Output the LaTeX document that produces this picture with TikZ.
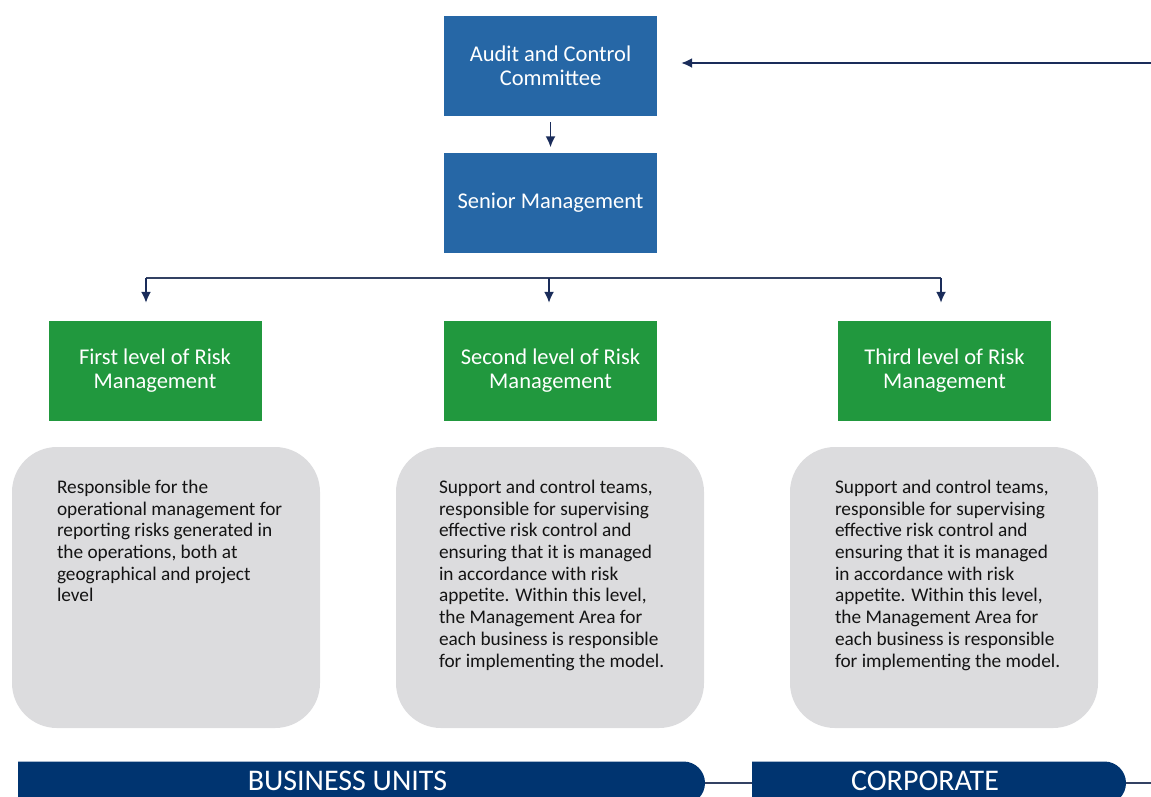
\documentclass[tikz,border=0pt]{standalone}
\usepackage{fontspec}
\setmainfont{Carlito}
\usetikzlibrary{arrows.meta, shapes.misc}
\definecolor{myblue}{RGB}{38,103,166}
\definecolor{mygreen}{RGB}{33,152,62}
\definecolor{mygray}{RGB}{220,220,222}
\definecolor{mynavy}{RGB}{0,52,112}
\definecolor{myarrow}{RGB}{26,44,90}

\tikzset{
  topbox/.style={fill=myblue, text=white, minimum width=213pt, minimum height=100pt,
    align=center, inner sep=0pt, font=\fontsize{22.5}{23.5}\selectfont},
  levelbox/.style={topbox, fill=mygreen},
  descbox/.style={fill=mygray, rounded corners=45pt, minimum width=308pt, minimum height=281pt},
  desctext/.style={anchor=north west, align=left, inner sep=0pt, text=black!92,
    font=\fontsize{19.3}{21.7}\selectfont},
  bar/.style={rounded rectangle, rounded rectangle left arc=none, fill=mynavy,
    minimum height=43pt, inner sep=0pt},
  bartext/.style={text=white, inner sep=0pt, font=\fontsize{30}{30}\selectfont},
  link/.style={-{Latex[length=11pt,width=10pt]}, line width=1.8pt, color=myarrow},
  joint/.style={line width=1.8pt, color=myarrow!75!gray}
}

\begin{document}
\begin{tikzpicture}[x=1pt,y=-1pt]
\useasboundingbox (0,0) rectangle (1151,796);
\clip (0,0) rectangle (1151,796);

% top of the chart
\node[topbox] (audit) at (550.5,66) {Audit and Control\\Committee};
\node[topbox] (senior) at (550.5,202.5) {Senior Management};

\coordinate (in) at (1151,63);
\draw[link, shorten >=24pt] (in) -- (in -| audit.east);
\draw[link, shorten <=6pt, shorten >=5pt] (audit) -- (senior);

% levels
\node[levelbox] (first) at (155,370.5) {First level of Risk\\Management};
\node[levelbox] (second) at (550.5,370.5) {Second level of Risk\\Management};
\node[levelbox] (third) at (944.5,370.5) {Third level of Risk\\Management};

\coordinate (bl) at (146,278);
\coordinate (bm) at (549,278);
\coordinate (br) at (941,278);
\draw[joint] (bl) -- (br);
\draw[link, shorten >=17.5pt] (bl) -- (bl |- first.north);
\draw[link, shorten >=17.5pt] (bm) -- (bm |- second.north);
\draw[link, shorten >=17.5pt] (br) -- (br |- third.north);

% descriptions
\node[descbox] (d1) at (166,587.5) {};
\node[descbox] (d2) at (550,587.5) {};
\node[descbox] (d3) at (944,587.5) {};

\node[desctext] (t1) at ([shift={(45,33)}]d1.north west) {Responsible for the\\operational management for\\reporting risks generated in\\the operations, both at\\geographical and project\\level};
\node[desctext] (t2) at ([shift={(43,33)}]d2.north west) {Support and control teams,\\responsible for supervising\\effective risk control and\\ensuring that it is managed\\in accordance with risk\\appetite. Within this level,\\the Management Area for\\each business is responsible\\for implementing the model.};
\node[desctext] (t3) at ([shift={(45,33)}]d3.north west) {Support and control teams,\\responsible for supervising\\effective risk control and\\ensuring that it is managed\\in accordance with risk\\appetite. Within this level,\\the Management Area for\\each business is responsible\\for implementing the model.};

% bottom bars
\node[bar, minimum width=687pt] (bu) at (361.5,783) {};
\node[bar, minimum width=374pt] (corp) at (939,783) {};
\node[bartext] (bulabel) at ([shift={(-14,-2)}]bu.center) {BUSINESS UNITS};
\node[bartext] (corplabel) at ([shift={(-14,-2)}]corp.center) {CORPORATE};

\coordinate (out) at (1151,783);
\draw[joint] (bu.east) -- (corp.west);
\draw[joint] (corp.east) -- (out);
\end{tikzpicture}
\end{document}
